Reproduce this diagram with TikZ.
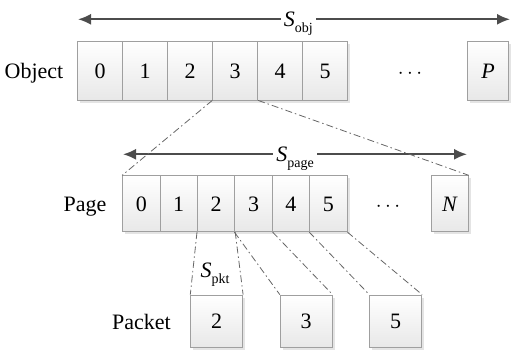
\documentclass[tikz,border=0pt]{standalone}
\usepackage{fontspec}
\setmainfont{Liberation Serif}
\usepackage{tikz}
\usetikzlibrary{arrows.meta, shadows}
\tikzset{>={Latex[length=13pt,width=11pt]}}
\tikzset{cell/.style={draw=gray!75, line width=0.8pt, top color=white, bottom color=gray!18,
    inner sep=0pt, text height=15pt, text depth=0pt,
    drop shadow={shadow xshift=2.5pt, shadow yshift=-2.5pt, fill=gray!30, opacity=0.7}}}
\newcommand{\symsub}[2]{\textit{#1}\raisebox{-5.5pt}{\fontsize{14}{14}\selectfont #2}}

\begin{document}
\begin{tikzpicture}[x=1pt, y=-1pt, font=\fontsize{22}{26}\selectfont,
  every node/.append style={text height=15pt, text depth=0pt},
  objcell/.style={cell, minimum width=45pt, minimum height=59pt},
  pagecell/.style={cell, minimum width=37.4pt, minimum height=56pt},
  pktcell/.style={cell, minimum width=52pt, minimum height=52pt},
  link/.style={draw=gray!80!black, line width=0.8pt, dash pattern=on 7pt off 3pt on 1.5pt off 3pt},
  span/.style={<->, draw=black!70, line width=1.8pt}]
\useasboundingbox (0,0) rectangle (511,356);
\foreach \i in {0,...,5}
  \node[objcell] (o\i) at (100.2+45*\i, 70.5) {\i};
\node[objcell, minimum width=41pt] (oP) at (488,70.5) {\textit{P}};
\node (odots) at (410,70.5) {$\cdots$};
\node (otxt) at (34,70.5) {Object};
\foreach \i in {0,...,5}
  \node[pagecell] (p\i) at (141.3+37.4*\i, 203.7) {\i};
\node[pagecell, minimum width=36.6pt] (pN) at (450,203.7) {\textit{N}};
\node (pdots) at (388,203.7) {$\cdots$};
\node (ptxt) at (85,204) {Page};
\node[pktcell] (k2) at (216.7,321) {2};
\node[pktcell] (k3) at (306.2,321) {3};
\node[pktcell] (k5) at (395.7,321) {5};
\node (ktxt) at (141.5,322) {Packet};
\node (spkt) at (215,270) {\symsub{S}{pkt}};
\coordinate (objL) at (78,19.3);
\coordinate (objR) at (510,19.3);
\coordinate (pageL) at (123,154.3);
\coordinate (pageR) at (467,154.3);
\draw[span] (objL) -- node[pos=0.51, fill=white, inner sep=3pt] (sobj) {\symsub{S}{obj}} (objR);
\draw[span] (pageL) -- node[fill=white, inner sep=3pt] (spage) {\symsub{S}{page}} (pageR);
\path[link]
(o3.south west) edge (p0.north west)
(o3.south east) edge (pN.north east)
(p2.south west) edge (k2.north west)
(p2.south east) edge (k2.north east)
(p3.south west) edge (k3.north west)
(p3.south east) edge (k3.north east)
(p5.south west) edge (k5.north west)
(p5.south east) edge (k5.north east)
;
\end{tikzpicture}
\end{document}
